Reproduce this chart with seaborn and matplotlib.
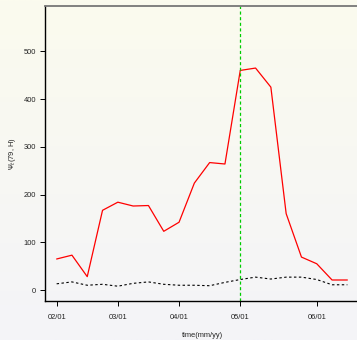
import numpy as np
import pandas as pd
import matplotlib
matplotlib.use("Agg")
import matplotlib.pyplot as plt
import seaborn as sns

# data
week_index = list(range(20))
red_values = [65, 73, 28, 167, 184, 176, 177, 123, 142, 224, 267, 264,
              460, 465, 425, 160, 69, 55, 21, 21]
black_values = [13, 17, 10, 12, 8, 14, 17, 12, 10, 10, 9, 16,
                22, 27, 23, 27, 27, 22, 11, 11]
tick_positions = [0, 4, 8, 12, 17]
tick_labels = ["02/01", "03/01", "04/01", "05/01", "06/01"]
yticks = [0, 100, 200, 300, 400, 500]
event_index = 12

sns.set_style("white")
plt.rcParams['font.family'] = ['Liberation Sans', 'DejaVu Sans']

fig = plt.figure(figsize=(3.57, 3.40), dpi=100)

# background gradient
bg = fig.add_axes([0, 0, 1, 1], zorder=-10)
top = np.array([251, 251, 238]) / 255
bot = np.array([244, 244, 248]) / 255
t = np.linspace(0, 1, 256)[:, None]
grad = top[None, :] * (1 - t) + bot[None, :] * t
bg.imshow(grad[:, None, :], aspect='auto', extent=[0, 1, 0, 1])
bg.axis('off')

ax = fig.add_axes([45 / 357, 1 - 301 / 340, (359 - 45) / 357, (301 - 6) / 340])
ax.patch.set_alpha(0)

df = pd.DataFrame({"x": week_index, "red": red_values, "black": black_values})
sns.lineplot(data=df, x="x", y="red", color="red", linewidth=0.9, ax=ax)
sns.lineplot(data=df, x="x", y="black", color="black", linewidth=0.8,
             linestyle=(0, (2.2, 2.2)), ax=ax)
ax.axvline(event_index, color="#00cc00", linewidth=0.9, linestyle=(0, (2.5, 2)))

ax.set_xlim(-0.76, 19.76)
ax.set_ylim(-23, 595)
ax.set_xticks(tick_positions)
ax.set_xticklabels(tick_labels)
ax.set_yticks(yticks)
ax.tick_params(axis='both', which='both', labelsize=5.4, length=3.6, width=0.7,
               color='black', labelcolor='#222222', direction='out', pad=3,
               left=True, bottom=True)
ax.tick_params(axis='x', pad=5.5)
ax.set_xlabel("time(mm/yy)", fontsize=5.4, labelpad=8, color='#222222')
ax.set_ylabel(r"$\Psi_t$(79, H)", fontsize=5.4, labelpad=4, color='#222222')

for s in ["left", "bottom"]:
    ax.spines[s].set_color("black")
    ax.spines[s].set_linewidth(1.0)
ax.spines["top"].set_color("#777777")
ax.spines["top"].set_linewidth(1.3)
ax.spines["right"].set_visible(False)

fig.savefig("out.png", dpi=100)
